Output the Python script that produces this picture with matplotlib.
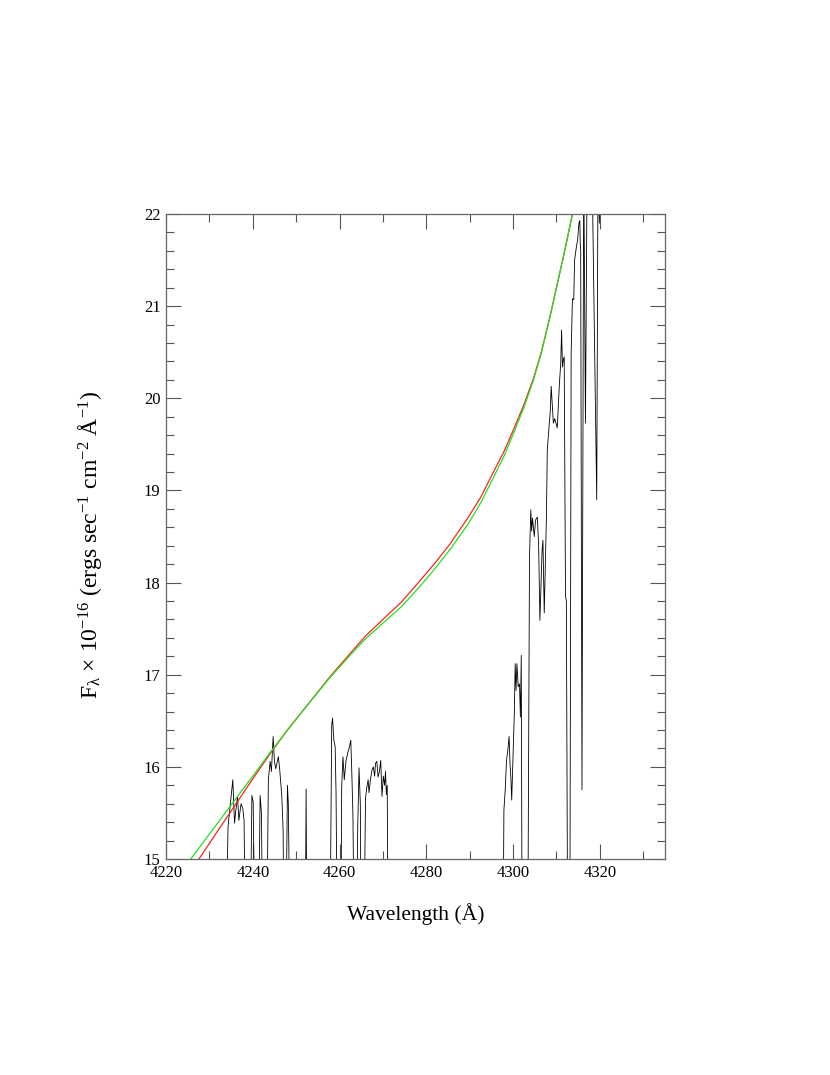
import matplotlib
matplotlib.use('Agg')
import matplotlib.pyplot as plt
from matplotlib.ticker import MultipleLocator

plt.rcParams['font.family'] = ['Liberation Serif', 'DejaVu Serif']
plt.rcParams['mathtext.default'] = 'regular'

# observed spectrum (values below 15 fall off the bottom of the frame)
spec_wave = [
    4233.8, 4234.3, 4235.4, 4235.8, 4236.1, 4236.5, 4236.8, 4237.3, 4237.7, 4238.0, 4238.3,
    4239.4, 4239.8, 4240.1, 4240.5,
    4241.3, 4241.7, 4242.0, 4242.3,
    4243.2, 4243.6, 4244.0, 4244.3, 4244.7, 4245.0, 4245.3, 4245.9, 4246.2, 4246.7, 4247.0, 4247.2,
    4247.6, 4248.0, 4248.2, 4248.6,
    4252.1, 4252.3, 4252.5,
    4257.8, 4258.2, 4258.4, 4258.7, 4259.0, 4259.2, 4259.5,
    4260.3, 4260.5, 4260.8, 4261.1, 4261.5, 4261.9, 4262.3, 4262.6, 4262.8, 4263.1, 4263.4,
    4263.9, 4264.2, 4264.5, 4264.8, 4265.0,
    4265.6, 4266.0, 4266.3, 4266.6, 4266.8, 4267.1, 4267.5, 4267.8, 4268.1, 4268.3, 4268.6,
    4268.9, 4269.2, 4269.5, 4269.8, 4270.1, 4270.4, 4270.6, 4270.8, 4271.0, 4271.2,
    4297.7, 4297.9, 4298.2, 4298.5, 4298.8, 4299.1, 4299.3, 4299.5, 4299.7, 4300.0, 4300.3,
    4300.5, 4300.7, 4300.9, 4301.2, 4301.5, 4301.7, 4301.9, 4302.1,
    4303.4, 4303.8, 4304.1, 4304.3, 4304.5, 4304.9, 4305.2, 4305.6, 4305.9, 4306.2, 4306.5,
    4306.7, 4306.9, 4307.2, 4307.4, 4307.7, 4307.9, 4308.6, 4308.8, 4309.1, 4309.3, 4309.6,
    4309.9, 4310.2, 4310.7, 4311.0, 4311.2, 4311.4, 4311.6, 4311.8, 4312.1, 4312.3, 4312.6,
    4313.1, 4313.4, 4313.7, 4314.0, 4314.2, 4314.6, 4314.9, 4315.2, 4315.4, 4315.5, 4315.6,
    4315.9, 4316.3, 4316.7, 4317.1, 4318.2, 4319.3, 4319.6, 4319.9, 4320.2, 4321.0,
]
spec_flux = [
    14.0, 15.35, 15.86, 15.39, 15.53, 15.68, 15.42, 15.60, 15.55, 15.42, 14.0,
    14.0, 15.69, 15.62, 14.0,
    14.0, 15.69, 15.50, 14.0,
    14.0, 15.86, 16.06, 15.95, 16.33, 16.06, 15.98, 16.11, 15.98, 15.68, 15.31, 14.0,
    14.0, 15.80, 15.60, 14.0,
    14.0, 15.76, 14.0,
    14.0, 16.45, 16.53, 16.29, 16.22, 15.72, 14.0,
    14.0, 15.78, 16.11, 15.86, 16.07, 16.15, 16.22, 16.29, 16.00, 15.46, 14.0,
    14.0, 15.35, 15.99, 15.60, 14.0,
    14.0, 15.66, 15.78, 15.86, 15.72, 15.85, 15.97, 16.00, 15.90, 16.04, 16.06,
    15.89, 15.95, 16.07, 15.68, 15.90, 15.80, 15.95, 15.70, 15.80, 14.0,
    14.0, 15.53, 15.75, 16.07, 16.18, 16.33, 16.04, 15.89, 15.64, 16.10, 16.58,
    17.12, 16.83, 17.12, 16.87, 16.90, 16.54, 17.21, 14.0,
    14.0, 18.28, 18.79, 18.56, 18.70, 18.50, 18.68, 18.71, 18.42, 17.59, 18.03,
    18.35, 18.46, 17.67, 18.10, 18.71, 19.44, 19.87, 20.13, 19.90, 19.73, 19.78,
    19.73, 19.68, 20.16, 20.38, 20.74, 20.34, 20.42, 20.45, 17.85, 17.80, 14.0,
    14.0, 20.49, 21.08, 21.07, 21.50, 21.64, 21.72, 21.90, 21.93, 21.68, 21.61,
    15.75, 22.60, 19.73, 22.60, 22.60, 18.90, 22.60, 21.90, 22.60, 23.00,
]

# fitted continua
green_wave = [4224.0, 4225.7, 4230.0, 4235.0, 4240.0, 4244.4, 4248.0, 4253.6, 4258.0,
              4262.8, 4266.0, 4270.0, 4274.3, 4278.0, 4281.8, 4285.5, 4289.7, 4292.6,
              4295.6, 4298.0, 4300.2, 4302.5, 4304.6, 4306.4, 4308.4, 4310.3, 4312.0,
              4313.7, 4314.5]
green_flux = [14.89, 15.00, 15.27, 15.585, 15.90, 16.18, 16.40, 16.73, 16.98,
              17.23, 17.39, 17.56, 17.74, 17.93, 18.14, 18.36, 18.64, 18.87,
              19.15, 19.38, 19.63, 19.90, 20.18, 20.47, 20.86, 21.26, 21.62,
              22.00, 22.18]
red_wave = [4226.5, 4227.6, 4232.0, 4236.0, 4240.0, 4244.4, 4248.0, 4253.6, 4258.0,
            4262.8, 4266.0, 4270.0, 4274.3, 4278.0, 4281.8, 4285.5, 4289.7, 4292.6,
            4295.6, 4298.0, 4300.2, 4302.5, 4304.6, 4306.4, 4308.4, 4310.3, 4312.0,
            4313.7, 4314.5]
red_flux = [14.93, 15.00, 15.31, 15.59, 15.87, 16.17, 16.40, 16.73, 16.99,
            17.25, 17.42, 17.60, 17.79, 17.99, 18.20, 18.42, 18.71, 18.93,
            19.21, 19.43, 19.67, 19.93, 20.20, 20.48, 20.86, 21.26, 21.62,
            22.00, 22.18]

fig = plt.figure(figsize=(8.3, 10.75), dpi=100)
ax = fig.add_axes([0.2, 0.2009, 0.601, 0.6])

ax.plot(spec_wave, spec_flux, color='black', lw=0.6)
ax.plot(red_wave, red_flux, color='#ff2020', lw=0.9)
ax.plot(green_wave, green_flux, color='#20e020', lw=0.9)

ax.set_xlim(4220, 4335)
ax.set_ylim(15, 22)
ax.xaxis.set_major_locator(MultipleLocator(20))
ax.xaxis.set_minor_locator(MultipleLocator(10))
ax.yaxis.set_major_locator(MultipleLocator(1))
ax.yaxis.set_minor_locator(MultipleLocator(0.2))
ax.tick_params(which='both', direction='in', top=True, right=True,
               color='#555555', labelsize=12, width=0.8)
ax.tick_params(which='major', length=11, pad=4)
ax.tick_params(which='minor', length=5.5)
for s in ax.spines.values():
    s.set_color('#666666')
    s.set_linewidth(0.9)

ax.set_xlabel('Wavelength (Å)', fontsize=15.5, labelpad=16)
ax.set_ylabel(r'F$_{\lambda}$ × 10$^{-16}$ (ergs sec$^{-1}$ cm$^{-2}$ Å$^{-1}$)',
              fontsize=17)
ax.yaxis.set_label_coords(-0.125, 0.487)

fig.savefig('out.png', dpi=100, facecolor='white')
